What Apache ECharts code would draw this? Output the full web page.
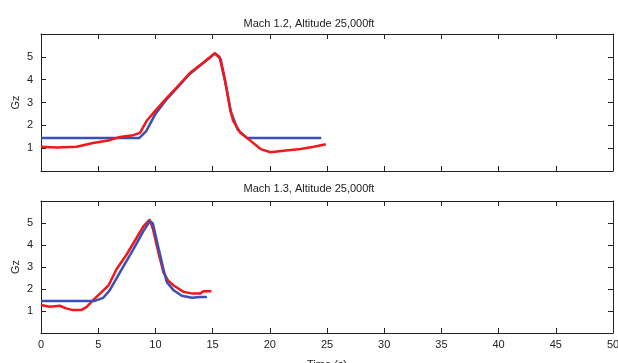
<!DOCTYPE html>
<html>
<head>
<meta charset="utf-8">
<script src="https://cdn.jsdelivr.net/npm/echarts@6/dist/echarts.min.js"></script>
<style>
  html, body { margin: 0; padding: 0; background: #fff; }
  #chart { width: 618px; height: 363px; }
</style>
</head>
<body>
<div id="chart"></div>
<script>
const xTicks = [0, 5, 10, 15, 20, 25, 30, 35, 40, 45, 50];
const yTicks = [1, 2, 3, 4, 5];

// Mach 1.2 [time, Gz]
const measured12 = [
  [0, 1.06], [1.35, 1.03], [3.1, 1.06], [4.56, 1.23], [6.0, 1.35], [6.9, 1.49],
  [8.07, 1.57], [8.65, 1.67], [9.24, 2.2], [10.1, 2.7], [11.0, 3.2], [11.87, 3.66],
  [13.04, 4.3], [14.2, 4.75], [15.2, 5.16], [15.7, 4.9], [16.1, 3.96], [16.55, 2.65],
  [16.8, 2.2], [17.4, 1.69], [18.3, 1.33], [19.2, 0.96], [20.06, 0.82], [21.2, 0.89],
  [22.7, 0.96], [23.86, 1.06], [24.9, 1.17]
];
const model12 = [
  [0, 1.45], [8.6, 1.45], [9.2, 1.75], [10.0, 2.5], [11.0, 3.15], [13.0, 4.25],
  [15.2, 5.15], [15.6, 5.0], [16.1, 3.9], [16.6, 2.6], [17.2, 1.8], [18.0, 1.45],
  [24.5, 1.45]
];

// Mach 1.3 [time, Gz]
const measured13 = [
  [0, 1.27], [0.76, 1.19], [1.64, 1.24], [2.2, 1.12], [2.8, 1.04], [3.5, 1.04],
  [4.0, 1.19], [4.56, 1.49], [5.15, 1.79], [5.9, 2.16], [6.6, 2.9], [7.5, 3.58],
  [8.36, 4.33], [8.95, 4.85], [9.5, 5.15], [9.8, 4.7], [10.26, 3.66], [10.7, 2.76],
  [11.1, 2.39], [11.6, 2.16], [12.46, 1.87], [13.3, 1.79], [13.9, 1.79], [14.2, 1.9],
  [14.9, 1.9]
];
const model13 = [
  [0, 1.46], [4.7, 1.46], [5.44, 1.6], [6.0, 1.94], [6.9, 2.76], [8.07, 3.8],
  [8.95, 4.63], [9.5, 5.07], [9.77, 5.0], [10.26, 3.88], [10.7, 2.91], [11.0, 2.31],
  [11.6, 1.94], [12.3, 1.69], [13.2, 1.6], [13.9, 1.64], [14.5, 1.64]
];

const titles = ['Mach 1.2, Altitude 25,000ft', 'Mach 1.3, Altitude 25,000ft'];

const font = 'Liberation Sans, Arial, sans-serif';
const axisColor = '#222';

const chart = echarts.init(document.getElementById('chart'));

// outerBoundsMode none: keep the plot boxes fixed even if "Time (s)" runs off the edge
const grids = [
  { left: 41, right: 5, top: 34, height: 137, outerBoundsMode: 'none' },
  { left: 41, right: 5, top: 201, height: 132, outerBoundsMode: 'none' }
];

function xAxisFor(gridIndex, position, showLabel) {
  return {
    type: 'value', gridIndex, position, min: 0, max: 50, interval: 5,
    axisLine: { show: true, onZero: false, lineStyle: { color: axisColor, width: 1 } },
    axisTick: { show: true, inside: true, length: 5, lineStyle: { color: axisColor } },
    axisLabel: { show: showLabel, color: '#222', fontFamily: font, fontSize: 11, margin: 6,
      formatter: v => (xTicks.includes(v) ? String(v) : '') },
    splitLine: { show: false },
    name: showLabel ? 'Time (s)' : '',
    nameLocation: 'middle', nameGap: 26,
    nameTextStyle: { color: '#222', fontFamily: font, fontSize: 11 }
  };
}

function yAxisFor(gridIndex, position, showLabel) {
  return {
    type: 'value', gridIndex, position, min: 0, max: 6, interval: 1,
    axisLine: { show: true, onZero: false, lineStyle: { color: axisColor, width: 1 } },
    axisTick: { show: true, inside: true, length: 5, lineStyle: { color: axisColor },
      interval: 0 },
    axisLabel: { show: showLabel, color: '#222', fontFamily: font, fontSize: 11, margin: 8,
      showMinLabel: false, showMaxLabel: false,
      formatter: v => (yTicks.includes(v) ? String(v) : '') },
    splitLine: { show: false },
    name: showLabel ? 'Gz' : '',
    nameLocation: 'middle', nameGap: 20, nameRotate: 90, nameMoveOverlap: false,
    nameTextStyle: { color: '#222', fontFamily: font, fontSize: 11 }
  };
}

const line = (xi, data, color) => ({
  type: 'line', xAxisIndex: xi, yAxisIndex: xi, data, showSymbol: false,
  lineStyle: { color, width: 2.5 }, itemStyle: { color }, animation: false
});

chart.setOption({
  backgroundColor: '#fff',
  title: [
    { text: titles[0], left: 'center', top: 13,
      textStyle: { fontFamily: font, fontSize: 11, fontWeight: 'normal', color: '#222' } },
    { text: titles[1], left: 'center', top: 178,
      textStyle: { fontFamily: font, fontSize: 11, fontWeight: 'normal', color: '#222' } }
  ],
  grid: grids,
  xAxis: [
    xAxisFor(0, 'bottom', false),
    xAxisFor(1, 'bottom', true),
    xAxisFor(0, 'top', false),
    xAxisFor(1, 'top', false)
  ],
  yAxis: [
    yAxisFor(0, 'left', true),
    yAxisFor(1, 'left', true),
    yAxisFor(0, 'right', false),
    yAxisFor(1, 'right', false)
  ],
  series: [
    line(0, model12, '#3a4fb8'),
    line(0, measured12, '#f01818'),
    line(1, measured13, '#f01818'),
    line(1, model13, '#3a4fb8')
  ]
});
</script>
</body>
</html>
